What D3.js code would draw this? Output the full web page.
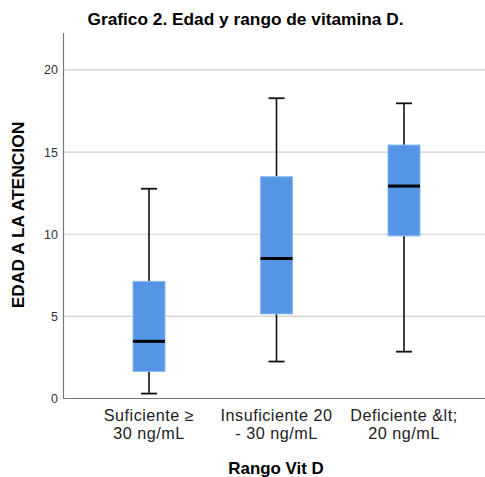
<!DOCTYPE html>
<html><head><meta charset="utf-8">
<script src="https://cdn.jsdelivr.net/npm/d3@7"></script>
<style>body{margin:0;background:#fff;} svg{display:block;font-family:Arial,"Liberation Sans",sans-serif;}</style>
</head><body>
<script>
const categories = [["Suficiente ≥","30 ng/mL"],["Insuficiente 20","- 30 ng/mL"],["Deficiente &lt;","20 ng/mL"]];
const whiskerLow = [0.3, 2.25, 2.85];
const q1 = [1.65, 5.15, 9.9];
const median = [3.48, 8.52, 12.93];
const q3 = [7.13, 13.5, 15.43];
const whiskerHigh = [12.77, 18.28, 17.97];
const yTicks = [0, 5, 10, 15, 20];

const W = 485, H = 477;
const svg = d3.select("body").append("svg").attr("width", W).attr("height", H);

const y = d3.scaleLinear().domain([0, 22.25]).range([398.5, 33]);
const x = d3.scalePoint().domain(d3.range(categories.length)).range([149, 404]);

// gridlines
svg.append("g").selectAll("line").data(yTicks.filter(d => d > 0)).join("line")
  .attr("x1", 63).attr("x2", W).attr("y1", d => y(d)).attr("y2", d => y(d))
  .attr("stroke", "#d0d0d0").attr("stroke-width", 1.2);

// y axis
const yAxis = svg.append("g").attr("transform", "translate(63,0)")
  .call(d3.axisLeft(y).tickValues(yTicks).tickSize(0).tickPadding(5));
yAxis.select(".domain").remove();
yAxis.selectAll("text").attr("font-size", 12.5).attr("fill", "#333").attr("font-family", "Arial, 'Liberation Sans', sans-serif");
svg.append("line").attr("x1", 63.5).attr("x2", 63.5).attr("y1", 33).attr("y2", y(0)).attr("stroke", "#777").attr("stroke-width", 1.2);
svg.append("line").attr("x1", 63).attr("x2", W).attr("y1", y(0)).attr("y2", y(0)).attr("stroke", "#777").attr("stroke-width", 1.2);

const idx = d3.range(categories.length);
const boxW = 32, capW = 16;
const g = svg.append("g");
// whiskers
g.selectAll(".wl").data(idx).join("line")
  .attr("x1", i => x(i)).attr("x2", i => x(i))
  .attr("y1", i => y(whiskerLow[i])).attr("y2", i => y(q1[i]))
  .attr("stroke", "#111").attr("stroke-width", 1.6);
g.selectAll(".wh").data(idx).join("line")
  .attr("x1", i => x(i)).attr("x2", i => x(i))
  .attr("y1", i => y(whiskerHigh[i])).attr("y2", i => y(q3[i]))
  .attr("stroke", "#111").attr("stroke-width", 1.6);
g.selectAll(".cl").data(idx).join("line")
  .attr("x1", i => x(i) - capW / 2).attr("x2", i => x(i) + capW / 2)
  .attr("y1", i => y(whiskerLow[i])).attr("y2", i => y(whiskerLow[i]))
  .attr("stroke", "#111").attr("stroke-width", 1.8);
g.selectAll(".ch").data(idx).join("line")
  .attr("x1", i => x(i) - capW / 2).attr("x2", i => x(i) + capW / 2)
  .attr("y1", i => y(whiskerHigh[i])).attr("y2", i => y(whiskerHigh[i]))
  .attr("stroke", "#111").attr("stroke-width", 1.8);
// boxes
g.selectAll("rect").data(idx).join("rect")
  .attr("x", i => x(i) - boxW / 2).attr("width", boxW)
  .attr("y", i => y(q3[i])).attr("height", i => y(q1[i]) - y(q3[i]))
  .attr("fill", "#5595e5").attr("stroke", "#8ab8ef").attr("stroke-width", 1);
g.selectAll(".med").data(idx).join("line")
  .attr("x1", i => x(i) - boxW / 2).attr("x2", i => x(i) + boxW / 2)
  .attr("y1", i => y(median[i])).attr("y2", i => y(median[i]))
  .attr("stroke", "#000").attr("stroke-width", 3);

// x labels (two separate lines)
const xg = svg.append("g").attr("font-size", 16.2).attr("fill", "#222").attr("letter-spacing", 0.5).attr("text-anchor", "middle");
xg.selectAll(".l1").data(idx).join("text").attr("class", "l1")
  .attr("x", i => x(i)).attr("y", 420.5).text(i => categories[i][0]);
xg.selectAll(".l2").data(idx).join("text").attr("class", "l2")
  .attr("x", i => x(i)).attr("y", 439).text(i => categories[i][1]);

// titles
svg.append("text").attr("x", 245.5).attr("y", 25).attr("text-anchor", "middle")
  .attr("font-size", 17.3).attr("font-weight", "bold").attr("fill", "#000")
  .text("Grafico 2. Edad y rango de vitamina D.");
svg.append("text").attr("transform", "translate(24,215) rotate(-90)").attr("text-anchor", "middle")
  .attr("font-size", 17.4).attr("font-weight", "bold").attr("fill", "#000")
  .text("EDAD A LA ATENCION");
svg.append("text").attr("x", 276).attr("y", 474).attr("text-anchor", "middle")
  .attr("font-size", 16.9).attr("font-weight", "bold").attr("fill", "#000")
  .text("Rango Vit D");
</script>
</body></html>
